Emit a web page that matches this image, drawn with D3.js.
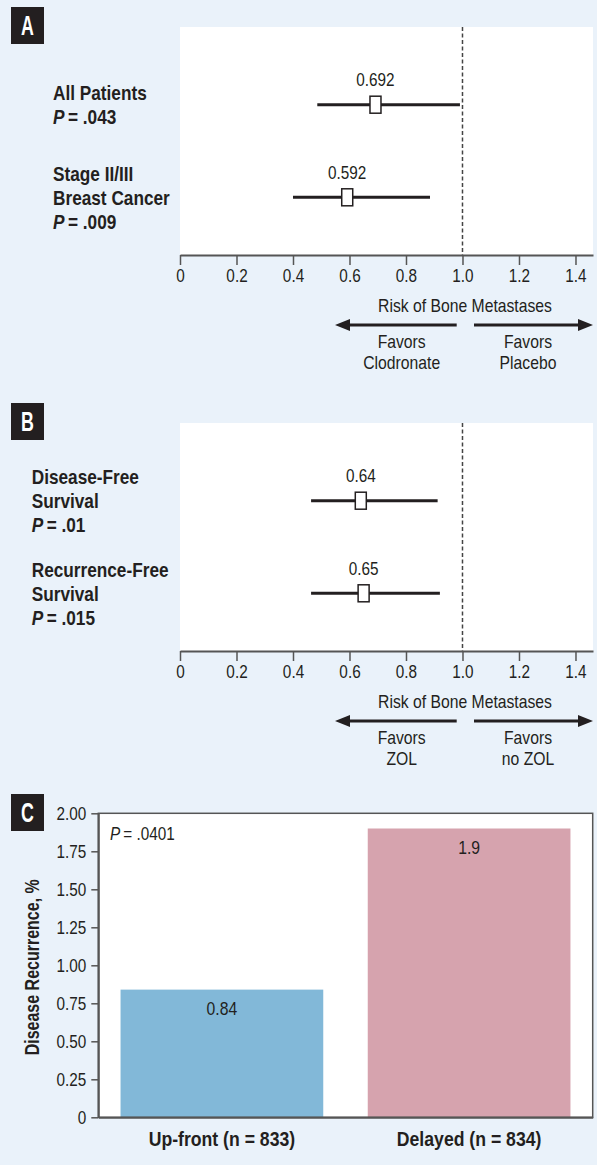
<!DOCTYPE html>
<html>
<head>
<meta charset="utf-8">
<script src="https://cdn.jsdelivr.net/npm/d3@7"></script>
<style>
  html, body { margin: 0; padding: 0; background: #eaf2fa; }
  svg { display: block; }
  text { fill: #231f20; font-family: "Liberation Sans", Arial, sans-serif; }
</style>
</head>
<body>
<svg id="chart" width="597" height="1165"></svg>
<script>
// ---------- Data ----------
const forestTicks = [0, 0.2, 0.4, 0.6, 0.8, 1.0, 1.2, 1.4];
const forestTickLabels = ["0", "0.2", "0.4", "0.6", "0.8", "1.0", "1.2", "1.4"];

const panelALabels = [["All Patients", "P|\u2009= .043"], ["Stage II/III", "Breast Cancer", "P|\u2009= .009"]];
const panelAEstimate = [0.692, 0.592];
const panelALower = [0.486, 0.400];
const panelAUpper = [0.991, 0.885];
const panelAFavors = [["Favors", "Clodronate"], ["Favors", "Placebo"]];

const panelBLabels = [["Disease-Free", "Survival", "P|\u2009= .01"], ["Recurrence-Free", "Survival", "P|\u2009= .015"]];
const panelBEstimate = [0.64, 0.65];
const panelBLower = [0.464, 0.464];
const panelBUpper = [0.912, 0.920];
const panelBFavors = [["Favors", "ZOL"], ["Favors", "no ZOL"]];

const axisTitle = "Risk of Bone Metastases";

const barCategories = ["Up-front (n = 833)", "Delayed (n = 834)"];
const barValues = [0.84, 1.9];
const barValueLabels = ["0.84", "1.9"];
const barColors = ["#82b8d8", "#d6a3ae"];
const barTicks = [0, 0.25, 0.5, 0.75, 1.0, 1.25, 1.5, 1.75, 2.0];
const barTickLabels = ["0", "0.25", "0.50", "0.75", "1.00", "1.25", "1.50", "1.75", "2.00"];
const barPText = "P|\u2009= .0401";
const barYTitle = "Disease Recurrence, %";

// ---------- Setup ----------
const svg = d3.select("#chart");
const ink = "#231f20";

function panelBadge(letter, y) {
  svg.append("rect").attr("x", 11).attr("y", y).attr("width", 33).attr("height", 37).attr("fill", ink);
  svg.append("text").attr("x", 27.5).attr("y", y + 18.5).attr("dy", "0.36em")
    .attr("text-anchor", "middle").style("fill", "#fff").style("font-weight", "bold")
    .style("font-size", "27px").attr("data-condense", "0.66").text(letter);
}

function addPText(sel, str) {
  const parts = str.split("|");
  sel.append("tspan").style("font-style", "italic").text(parts[0]);
  sel.append("tspan").text(parts[1]);
}

function arrow(g, x1, x2, y) {
  const dir = Math.sign(x2 - x1);
  const headLen = 15, headHalf = 6;
  g.append("line").attr("x1", x1).attr("x2", x2 - dir * headLen + dir * 1).attr("y1", y).attr("y2", y)
    .attr("stroke", ink).attr("stroke-width", 3.2);
  g.append("path")
    .attr("d", `M${x2},${y} L${x2 - dir * headLen},${y - headHalf} L${x2 - dir * headLen},${y + headHalf} Z`)
    .attr("fill", ink);
}

function drawForest(off, labels, est, lo, hi, favors, labelX, badgeY, letter) {
  const g = svg.append("g").attr("transform", `translate(0,${off})`);
  const top = 27, axisY = 255, left = 180, right = 593;
  const x = d3.scaleLinear().domain([0, 1.462]).range([left, right]);
  const y = d3.scalePoint().domain(d3.range(est.length)).range([104.7, 197.3]);

  g.append("rect").attr("x", left).attr("y", top).attr("width", right - left).attr("height", axisY - top).attr("fill", "#fff");

  // reference line at 1.0
  g.append("line").attr("x1", x(1)).attr("x2", x(1)).attr("y1", top).attr("y2", axisY)
    .attr("stroke", "#444").attr("stroke-width", 1.5).attr("stroke-dasharray", "4,2.5");

  // axis
  const ax = g.append("g").attr("transform", `translate(0,${axisY})`)
    .call(d3.axisBottom(x).tickValues(forestTicks).tickFormat((d, i) => forestTickLabels[i]).tickSize(10).tickPadding(4).tickSizeOuter(0));
  ax.select(".domain").attr("stroke", "#555").attr("stroke-width", 2);
  ax.selectAll(".tick line").attr("stroke", "#555").attr("stroke-width", 1.5);
  ax.selectAll(".tick text").style("font-size", "18px").style("font-family", null).attr("fill", "#333");

  // CI lines & squares
  est.forEach((e, i) => {
    g.append("line").attr("x1", x(lo[i])).attr("x2", x(hi[i])).attr("y1", y(i)).attr("y2", y(i))
      .attr("stroke", ink).attr("stroke-width", 3);
    g.append("rect").attr("x", x(e) - 5.5).attr("y", y(i) - 8.5).attr("width", 11).attr("height", 17)
      .attr("fill", "#fff").attr("stroke", ink).attr("stroke-width", 1.5);
    g.append("text").attr("x", x(e)).attr("y", y(i) - 25).attr("dy", "0.36em").attr("text-anchor", "middle")
      .style("font-size", "18px").text(String(e));
  });

  // row labels
  labels.forEach((lines, i) => {
    const n = lines.length;
    lines.forEach((ln, j) => {
      const t = g.append("text").attr("x", labelX).attr("y", y(i) + (j - (n - 1) / 2) * 24).attr("dy", "0.36em")
        .style("font-size", "20.5px").style("font-weight", "bold").attr("data-condense", "0.84");
      if (ln.includes("|")) addPText(t, ln); else t.text(ln);
    });
  });

  // axis title + arrows
  g.append("text").attr("x", 465).attr("y", 305).attr("dy", "0.36em").attr("text-anchor", "middle")
    .style("font-size", "18.5px").text(axisTitle);
  arrow(g, 456.7, 335, 325);
  arrow(g, 474, 593, 325);
  [[401.7, favors[0]], [528, favors[1]]].forEach(([cx, lines]) => {
    lines.forEach((ln, j) => {
      g.append("text").attr("x", cx).attr("y", 341.7 + j * 21).attr("dy", "0.36em").attr("text-anchor", "middle")
        .style("font-size", "18.5px").text(ln);
    });
  });
  panelBadge(letter, badgeY);
}

drawForest(0, panelALabels, panelAEstimate, panelALower, panelAUpper, panelAFavors, 53, 7, "A");
drawForest(396, panelBLabels, panelBEstimate, panelBLower, panelBUpper, panelBFavors, 31.7, 403, "B");

// ---------- Panel C ----------
panelBadge("C", 794);
const cLeft = 98.3, cRight = 592.7, cTop = 813.3, cBottom = 1117.3;
const xb = d3.scaleBand().domain(barCategories).range([cLeft, cRight]).paddingInner(0.18).paddingOuter(0.09);
const yb = d3.scaleLinear().domain([0, 2]).range([cBottom, cTop]);

svg.append("rect").attr("x", cLeft).attr("y", cTop).attr("width", cRight - cLeft).attr("height", cBottom - cTop)
  .attr("fill", "#fff");

svg.selectAll(".bar").data(barValues).enter().append("rect")
  .attr("x", (d, i) => xb(barCategories[i])).attr("width", xb.bandwidth())
  .attr("y", d => yb(d)).attr("height", d => cBottom - yb(d))
  .attr("fill", (d, i) => barColors[i]);

svg.selectAll(".barlbl").data(barValues).enter().append("text")
  .attr("x", (d, i) => xb(barCategories[i]) + xb.bandwidth() / 2)
  .attr("y", d => yb(d) + 19).attr("dy", "0.36em").attr("text-anchor", "middle")
  .style("font-size", "18.5px").text((d, i) => barValueLabels[i]);

// border
svg.append("rect").attr("x", cLeft).attr("y", cTop).attr("width", cRight - cLeft).attr("height", cBottom - cTop)
  .attr("fill", "none").attr("stroke", "#555").attr("stroke-width", 1.5);

const yAx = svg.append("g").attr("transform", `translate(${cLeft},0)`)
  .call(d3.axisLeft(yb).tickValues(barTicks).tickFormat((d, i) => barTickLabels[i]).tickSize(7).tickPadding(5).tickSizeOuter(0));
yAx.select(".domain").attr("stroke", "#555").attr("stroke-width", 2);
yAx.selectAll(".tick line").attr("stroke", "#555").attr("stroke-width", 1.5);
yAx.selectAll(".tick text").style("font-size", "18px").style("font-family", null).attr("fill", "#333");

const xAx = svg.append("g").attr("transform", `translate(0,${cBottom})`)
  .call(d3.axisBottom(xb).tickSize(0).tickPadding(14));
xAx.select(".domain").attr("stroke", "#555").attr("stroke-width", 2);
xAx.selectAll(".tick text").style("font-size", "20.5px").style("font-weight", "bold").style("font-family", null)
  .attr("fill", ink).attr("data-condense", "0.86");

const pT = svg.append("text").attr("x", 110).attr("y", 833.3).attr("dy", "0.36em").style("font-size", "18px");
addPText(pT, barPText);

svg.append("text").attr("transform", `translate(31.7,${(cTop + cBottom) / 2 + 2}) rotate(-90)`)
  .attr("dy", "0.36em").attr("text-anchor", "middle").style("font-size", "20px").style("font-weight", "bold")
  .attr("data-condense", "0.8").text(barYTitle);

// ---------- Condense all text (emulate a condensed face) ----------
svg.selectAll("text").each(function () {
  const el = d3.select(this);
  const f = +(el.attr("data-condense") || 0.85);
  const len = this.getComputedTextLength();
  if (len > 0) el.attr("textLength", len * f).attr("lengthAdjust", "spacingAndGlyphs");
});
</script>
</body>
</html>
